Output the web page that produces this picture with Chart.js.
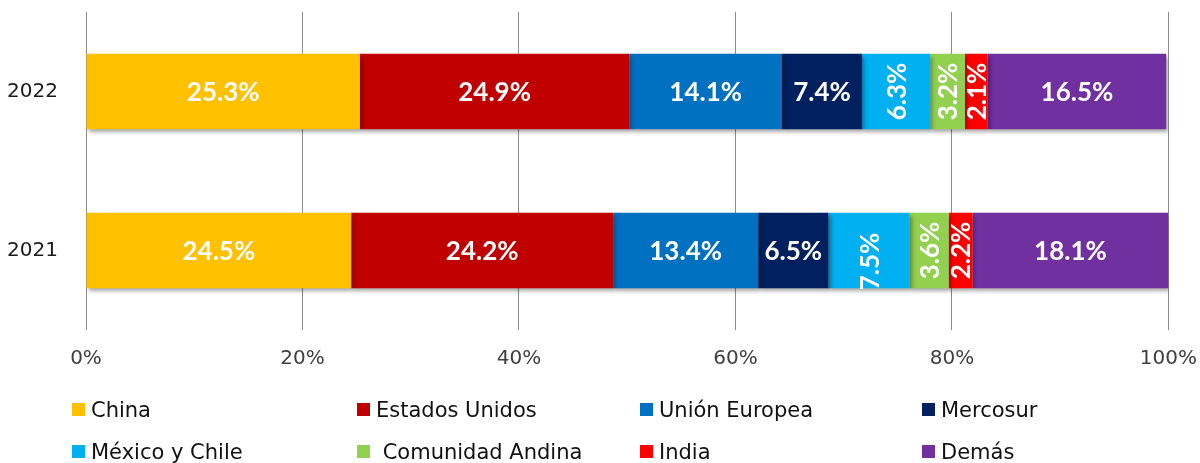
<!DOCTYPE html>
<html>
<head>
<meta charset="utf-8">
<script src="https://cdn.jsdelivr.net/npm/chart.js@4"></script>
<style>
  body { margin: 0; background: #fff; }
  #wrap { position: relative; width: 1200px; height: 463px; overflow: hidden; }
  #myChart { position: absolute; left: 0; top: -20px; }
  #legend { position: absolute; left: 0; top: 398px; width: 1200px; font-family: "DejaVu Sans", sans-serif; font-size: 21px; color: #111; }
  .item { position: absolute; white-space: pre; line-height: 24px; }
  .box { display: inline-block; width: 13px; height: 13px; margin-right: 6px; vertical-align: 1px; }
</style>
</head>
<body>
<div id="wrap">
  <canvas id="myChart" width="1214" height="483"></canvas>
  <div id="legend"></div>
</div>
<script>
const years = ['2022', '2021'];
const seriesNames = ['China', 'Estados Unidos', 'Unión Europea', 'Mercosur', 'México y Chile', ' Comunidad Andina', 'India', 'Demás'];
const seriesColors = ['#FFC000', '#C00000', '#0070C0', '#002060', '#00B0F0', '#92D050', '#FF0000', '#7030A0'];
const china = [25.3, 24.5];
const estadosUnidos = [24.9, 24.2];
const unionEuropea = [14.1, 13.4];
const mercosur = [7.4, 6.5];
const mexicoChile = [6.3, 7.5];
const comunidadAndina = [3.2, 3.6];
const india = [2.1, 2.2];
const demas = [16.5, 18.1];
const xTicks = [0, 20, 40, 60, 80, 100];

const seriesValues = [china, estadosUnidos, unionEuropea, mercosur, mexicoChile, comunidadAndina, india, demas];
// narrow segments get vertical labels
const rotated = [false, false, false, false, true, true, true, false];
// México y Chile 2021 label sits a bit low in the original
const labelDy = { '4,1': 11 };

const font = '"DejaVu Sans", sans-serif';

// bar shadow
const shadowPlugin = {
  id: 'shadow',
  beforeDatasetsDraw(chart) {
    const c = chart.ctx;
    c.save();
    c.shadowColor = 'rgba(0,0,0,0.35)';
    c.shadowBlur = 4;
    c.shadowOffsetX = 2;
    c.shadowOffsetY = 3;
  },
  afterDatasetsDraw(chart) {
    chart.ctx.restore();
  }
};

// labels inside segments
const labelPlugin = {
  id: 'segLabels',
  afterDatasetsDraw(chart) {
    const c = chart.ctx;
    chart.data.datasets.forEach(function(ds, i) {
      const meta = chart.getDatasetMeta(i);
      meta.data.forEach(function(bar, j) {
        const cx = (bar.x + bar.base) / 2;
        const cy = bar.y + (labelDy[i + ',' + j] || 0);
        const txt = ds.data[j].toFixed(1) + '%';
        c.save();
        c.fillStyle = '#fff';
        c.font = 'bold 26px Lato, sans-serif';
        c.textAlign = 'center';
        c.textBaseline = 'middle';
        c.translate(cx, cy);
        if (rotated[i]) c.rotate(-Math.PI / 2);
        c.fillText(txt, 0, 1);
        c.restore();
      });
    });
  }
};

const ctx = document.getElementById('myChart').getContext('2d');
const chart = new Chart(ctx, {
  type: 'bar',
  data: {
    labels: years,
    datasets: seriesNames.map(function(name, i) {
      return {
        label: name.trim(),
        data: seriesValues[i],
        backgroundColor: seriesColors[i],
        borderWidth: 0,
        categoryPercentage: 0.5,
        barPercentage: 0.95
      };
    })
  },
  options: {
    indexAxis: 'y',
    responsive: false,
    animation: false,
    layout: { padding: { left: 0, right: 21, top: 10, bottom: 83 } },
    plugins: {
      legend: { display: false },
      tooltip: { enabled: false }
    },
    scales: {
      x: {
        stacked: true,
        min: 0,
        max: 100,
        afterBuildTicks: function(scale) {
          scale.ticks = xTicks.map(function(v) { return { value: v }; });
        },
        afterFit: function(scale) { scale.height = 50; },
        ticks: {
          padding: 17,
          color: '#404040',
          font: { family: font, size: 20 },
          callback: function(v) { return v + '%'; }
        },
        grid: { color: '#8c8c8c', lineWidth: 1, drawTicks: false },
        border: { display: false }
      },
      y: {
        stacked: true,
        afterFit: function(scale) { scale.width = 86; },
        ticks: {
          padding: 20,
          color: '#1a1a1a',
          font: { family: font, size: 20 }
        },
        grid: { display: false },
        border: { display: false }
      }
    }
  },
  plugins: [shadowPlugin, labelPlugin]
});

// legend, 4 columns x 2 rows
const legendEl = document.getElementById('legend');
const colX = [72, 357, 640, 922];
seriesNames.forEach(function(name, i) {
  const d = document.createElement('div');
  d.className = 'item';
  d.style.left = colX[i % 4] + 'px';
  d.style.top = (Math.floor(i / 4) * 42) + 'px';
  d.innerHTML = '<span class="box" style="background:' + seriesColors[i] + '"></span>' + name;
  legendEl.appendChild(d);
});
</script>
</body>
</html>
